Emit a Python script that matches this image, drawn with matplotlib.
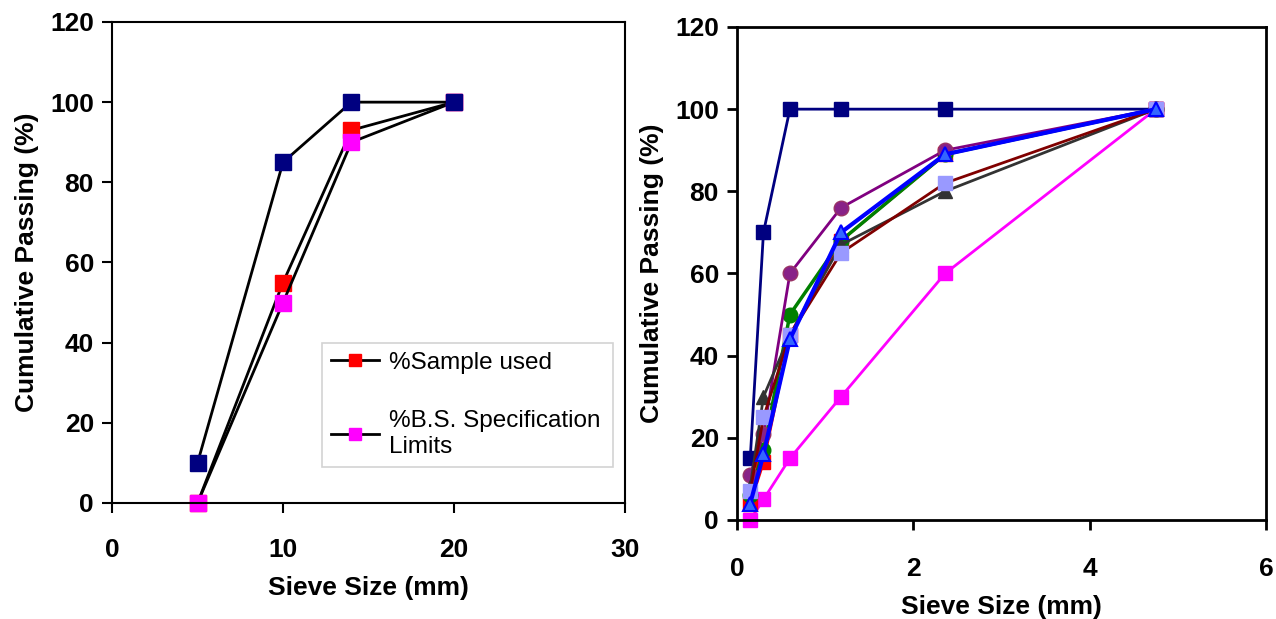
import matplotlib
matplotlib.use('Agg')
import matplotlib.pyplot as plt

plt.rcParams['font.family'] = ['Liberation Sans', 'DejaVu Sans']

# left chart: coarse aggregate grading
coarse_sizes = [5, 10, 14, 20]
coarse_sample = [0, 55, 93, 100]
coarse_lower = [0, 50, 90, 100]
coarse_upper = [10, 85, 100, 100]

# right chart: fine aggregate grading
fine_sizes = [0.15, 0.3, 0.6, 1.18, 2.36, 4.75]
fine_upper = [15, 70, 100, 100, 100, 100]
fine_lower = [0, 5, 15, 30, 60, 100]
fine_red = [4, 14, 45, 68, 89, 100]
fine_green = [6, 17, 50, 68, 89, 100]
fine_purple = [11, 21, 60, 76, 90, 100]
fine_gray = [8, 30, 45, 67, 80, 100]
fine_lavender = [7, 25, 45, 65, 82, 100]
fine_blue = [4, 16, 44, 70, 89, 100]

fig = plt.figure(figsize=(12.76, 6.19), dpi=100)
ax1 = fig.add_axes([0.0878, 0.1874, 0.402, 0.7771])
ax2 = fig.add_axes([0.5776, 0.160, 0.4146, 0.7964])

# left chart
ax1.plot(coarse_sizes, coarse_sample, color='black', lw=2, marker='s', ms=11,
         mfc='#FF0000', mec='#FF0000', label='%Sample used', clip_on=False)
ax1.plot(coarse_sizes, coarse_lower, color='black', lw=2, marker='s', ms=11,
         mfc='#FF00FF', mec='#FF00FF', label='%B.S. Specification\nLimits', clip_on=False)
ax1.plot(coarse_sizes, coarse_upper, color='black', lw=2, marker='s', ms=11,
         mfc='#000080', mec='#000080', clip_on=False)
ax1.set_xlim(0, 30)
ax1.set_ylim(0, 120)
ax1.set_xticks([0, 10, 20, 30])
ax1.set_yticks([0, 20, 40, 60, 80, 100, 120])
ax1.set_xlabel('Sieve Size (mm)', fontsize=19, fontweight='bold', labelpad=10)
ax1.set_ylabel('Cumulative Passing (%)', fontsize=19, fontweight='bold', labelpad=8)
leg = ax1.legend(loc='lower left', bbox_to_anchor=(0.41, 0.075, 0.567, 0.26), mode='expand',
                 fontsize=17.5, frameon=True, fancybox=False, edgecolor='#C8C8C8',
                 handlelength=2.0, handletextpad=0.4, labelspacing=1.5,
                 borderpad=0.35, borderaxespad=0, markerscale=0.8)
leg.get_frame().set_linewidth(1.2)
for t in leg.get_texts():
    t.set_linespacing(1.25)

# right chart
ax2.plot(fine_sizes, fine_upper, color='#000080', lw=2, marker='s', ms=10.5,
         mfc='#000080', mec='#000080', clip_on=False)
ax2.plot(fine_sizes, fine_lower, color='#FF00FF', lw=2, marker='s', ms=10.5,
         mfc='#FF00FF', mec='#FF00FF', clip_on=False)
ax2.plot(fine_sizes, fine_red, color='#FF0000', lw=2, marker='s', ms=9.5,
         mfc='#FF0000', mec='#FF0000', clip_on=False)
ax2.plot(fine_sizes, fine_green, color='#008000', lw=2.5, marker='o', ms=10.5,
         mfc='#008000', mec='#008000', clip_on=False)
ax2.plot(fine_sizes, fine_purple, color='#800080', lw=2, marker='o', ms=10.5,
         mfc='#882288', mec='#993366', clip_on=False)
ax2.plot(fine_sizes, fine_gray, color='#333333', lw=2, marker='^', ms=10.5,
         mfc='#333333', mec='#333333', clip_on=False)
ax2.plot(fine_sizes, fine_lavender, color='#800000', lw=2, marker='s', ms=10.5,
         mfc='#9999FF', mec='#9999FF', clip_on=False)
ax2.plot(fine_sizes, fine_blue, color='#0000FF', lw=3, marker='^', ms=10.5,
         mfc='#3366FF', mec='#0000FF', mew=1.5, clip_on=False)
ax2.set_xlim(0, 6)
ax2.set_ylim(0, 120)
ax2.set_xticks([0, 2, 4, 6])
ax2.set_yticks([0, 20, 40, 60, 80, 100, 120])
ax2.set_xlabel('Sieve Size (mm)', fontsize=19, fontweight='bold', labelpad=10)
ax2.set_ylabel('Cumulative Passing (%)', fontsize=19, fontweight='bold', labelpad=8)

for ax, lw, xpad in [(ax1, 1.5, 18), (ax2, 2, 20)]:
    for sp in ax.spines.values():
        sp.set_linewidth(lw)
    ax.tick_params(direction='out', length=7, width=lw)
    ax.tick_params(axis='y', pad=6)
    ax.tick_params(axis='x', pad=xpad)
    for lab in ax.get_xticklabels() + ax.get_yticklabels():
        lab.set_fontsize(19)
        lab.set_fontweight('bold')

fig.savefig('out.png', dpi=100)
